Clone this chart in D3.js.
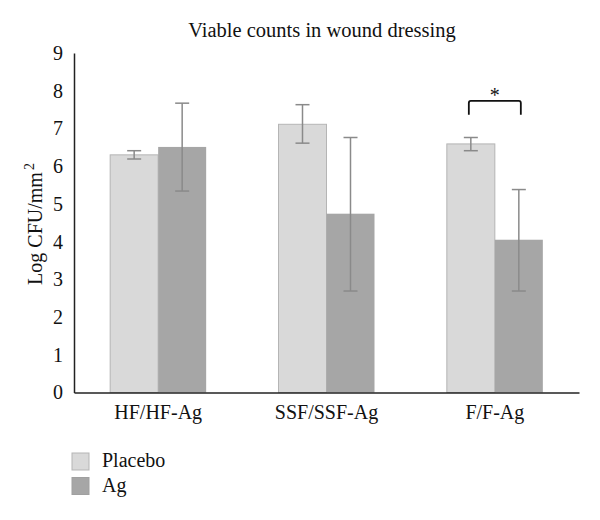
<!DOCTYPE html>
<html><head><meta charset="utf-8">
<script src="https://cdn.jsdelivr.net/npm/d3@7"></script>
<style>body{margin:0;background:#fff}svg{display:block}text{font-family:"Liberation Serif","DejaVu Serif",serif;fill:#111}</style>
</head><body><svg id="c" width="600" height="520"></svg>
<script>
const categories = ["HF/HF-Ag", "SSF/SSF-Ag", "F/F-Ag"];
const seriesNames = ["Placebo", "Ag"];
const placeboMean = [6.30, 7.11, 6.59];
const placeboLow  = [6.19, 6.61, 6.41];
const placeboHigh = [6.41, 7.63, 6.76];
const agMean = [6.51, 4.74, 4.05];
const agLow  = [5.34, 2.69, 2.69];
const agHigh = [7.67, 6.76, 5.38];
const yTicks = [0,1,2,3,4,5,6,7,8,9];
const colors = ["#d9d9d9", "#a6a6a6"];

const FS = "20px";
const svg = d3.select("#c");
const x0 = d3.scaleBand().domain(categories).range([74, 579]).padding(0);
const x1 = d3.scaleBand().domain(seriesNames).range([-48, 48]);
const y = d3.scaleLinear().domain([0, 9]).range([392.5, 53]);

const data = [];
categories.forEach((c, i) => {
  data.push({c, s: "Placebo", m: placeboMean[i], lo: placeboLow[i], hi: placeboHigh[i]});
  data.push({c, s: "Ag", m: agMean[i], lo: agLow[i], hi: agHigh[i]});
});
const cx = d => x0(d.c) + x0.bandwidth()/2;

// title
svg.append("text").attr("x", 322).attr("y", 37).attr("text-anchor", "middle")
  .style("font-size", "20.5px").text("Viable counts in wound dressing");

// bars
svg.selectAll("rect.bar").data(data).join("rect")
  .attr("x", d => cx(d) + x1(d.s)).attr("width", x1.bandwidth())
  .attr("y", d => y(d.m)).attr("height", d => y(0) - y(d.m))
  .attr("fill", d => colors[seriesNames.indexOf(d.s)])
  .attr("stroke", d => d.s === "Placebo" ? "#b5b5b5" : "none").attr("stroke-width", 1);

// error bars
const eb = svg.append("g").attr("stroke", "#8a8a8a").attr("stroke-width", 1.5).attr("fill", "none");
data.forEach(d => {
  const xc = cx(d) + x1(d.s) + x1.bandwidth()/2;
  eb.append("line").attr("x1", xc).attr("x2", xc).attr("y1", y(d.lo)).attr("y2", y(d.hi));
  eb.append("line").attr("x1", xc-7).attr("x2", xc+7).attr("y1", y(d.lo)).attr("y2", y(d.lo));
  eb.append("line").attr("x1", xc-7).attr("x2", xc+7).attr("y1", y(d.hi)).attr("y2", y(d.hi));
});

// axes
const yAxis = d3.axisLeft(y).tickValues(yTicks).tickSize(0).tickPadding(11).tickFormat(d3.format("d"));
const ga = svg.append("g").attr("transform", "translate(74,0)").call(yAxis);
ga.select(".domain").attr("stroke", "#222").attr("stroke-width", 1.5);
ga.selectAll("text").style("font-size", FS).style("font-family", "Liberation Serif, serif").attr("fill", "#111");

const xAxis = d3.axisBottom(x0).tickSize(0).tickPadding(12);
const gx = svg.append("g").attr("transform", `translate(0,${y(0)})`).call(xAxis);
gx.select(".domain").attr("stroke", "#222").attr("stroke-width", 1.5);
gx.selectAll("text").style("font-size", FS).style("font-family", "Liberation Serif, serif").attr("fill", "#111");

// y label
const yl = svg.append("text").attr("transform", "translate(42,224) rotate(-90)")
  .attr("text-anchor", "middle").style("font-size", FS);
yl.append("tspan").text("Log CFU/mm");
yl.append("tspan").attr("dy", -8).attr("dx", 2).style("font-size", "14px").text("2");

// significance bracket
const fx = x0("F/F-Ag") + x0.bandwidth()/2;
const by = y(7.73), bd = y(7.36);
svg.append("path").attr("d", `M${fx-26},${bd} L${fx-26},${by+2} Q${fx-26},${by} ${fx-24},${by} L${fx+24},${by} Q${fx+26},${by} ${fx+26},${by+2} L${fx+26},${bd}`)
  .attr("fill", "none").attr("stroke", "#111").attr("stroke-width", 1.8);
svg.append("text").attr("x", fx).attr("y", by + 1).attr("text-anchor", "middle").style("font-size", "20px").text("*");

// legend
const lg = svg.append("g");
seriesNames.forEach((s, i) => {
  lg.append("rect").attr("x", 72).attr("y", 453 + i*24.5).attr("width", 17).attr("height", 17)
    .attr("fill", colors[i]).attr("stroke", i === 0 ? "#b5b5b5" : "#a0a0a0").attr("stroke-width", 1);
  lg.append("text").attr("x", 102).attr("y", 467 + i*24.5).style("font-size", FS).text(s);
});
</script></body></html>
